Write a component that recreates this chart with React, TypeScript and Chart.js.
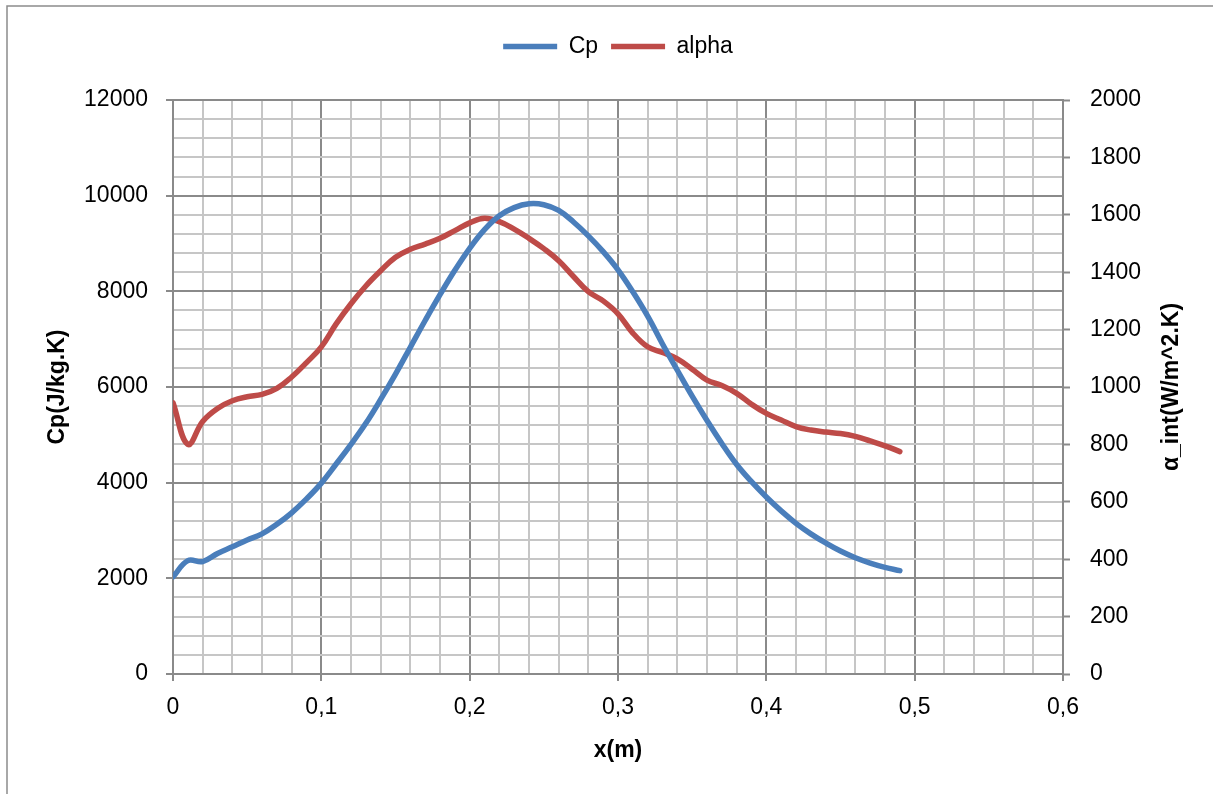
import React, { useEffect, useRef } from 'react';
import { Chart, registerables } from 'chart.js';

Chart.register(...registerables);

const FONT = '"Liberation Sans", Arial, sans-serif';

const seriesLabels = ['Cp', 'alpha'];
const xTitle = 'x(m)';
const yLeftTitle = 'Cp(J/kg.K)';
const yRightTitle = 'α_int(W/m^2.K)';

const xValues = [
  0.0, 0.01, 0.02, 0.03, 0.04, 0.05, 0.06, 0.07, 0.08, 0.09,
  0.1, 0.11, 0.12, 0.13, 0.14, 0.15, 0.16, 0.17, 0.18, 0.19,
  0.2, 0.21, 0.22, 0.23, 0.24, 0.25, 0.26, 0.27, 0.28, 0.29,
  0.3, 0.31, 0.32, 0.33, 0.34, 0.35, 0.36, 0.37, 0.38, 0.39,
  0.4, 0.41, 0.42, 0.43, 0.44, 0.45, 0.46, 0.47, 0.48, 0.49,
];

const cpValues = [
  2030, 2370, 2350, 2520, 2660, 2800, 2930, 3130, 3370, 3660,
  3990, 4390, 4800, 5240, 5740, 6270, 6830, 7390, 7930, 8440,
  8900, 9290, 9580, 9750, 9830, 9810, 9690, 9450, 9160, 8830,
  8450, 7990, 7480, 6900, 6350, 5810, 5300, 4820, 4380, 4020,
  3700, 3410, 3150, 2930, 2740, 2570, 2430, 2320, 2230, 2160,
];

const alphaValues = [
  945, 800, 880, 925, 952, 966, 974, 995, 1035, 1085,
  1140, 1220, 1290, 1352, 1405, 1452, 1480, 1498, 1518, 1545,
  1572, 1588, 1576, 1550, 1518, 1482, 1440, 1385, 1332, 1300,
  1255, 1188, 1140, 1120, 1098, 1062, 1024, 1005, 978, 940,
  908, 885, 862, 850, 843, 838, 828, 812, 795, 775,
];

const xTickStep = 0.02;
const xLabelStep = 0.1;
const leftTickStep = 400;
const leftLabelStep = 2000;
const rightTickStep = 200;

const MAJOR = '#8a8a8a';
const MINOR = '#c6c6c6';

const decorPlugin = {
  id: 'decor',
  beforeDraw(chart: any) {
    const ctx = chart.ctx;
    ctx.save();
    ctx.strokeStyle = '#8c8c8c';
    ctx.lineWidth = 1.5;
    ctx.beginPath();
    ctx.moveTo(7, chart.height);
    ctx.lineTo(7, 6);
    ctx.lineTo(chart.width, 6);
    ctx.stroke();
    ctx.restore();
  },
  afterDraw(chart: any) {
    const ctx = chart.ctx;
    const a = chart.chartArea;
    ctx.save();
    ctx.translate(1172, (a.top + a.bottom) / 2);
    ctx.rotate(-Math.PI / 2);
    ctx.font = `bold 23px ${FONT}`;
    ctx.fillStyle = '#000';
    ctx.textAlign = 'center';
    ctx.textBaseline = 'middle';
    ctx.fillText(yRightTitle, 0, 0);
    ctx.restore();
  },
};

const isMultiple = (v: number, step: number) => Math.abs(v / step - Math.round(v / step)) < 1e-6;

export default function App() {
  const ref = useRef<HTMLCanvasElement | null>(null);

  useEffect(() => {
    if (!ref.current) return;
    const chart = new Chart(ref.current, {
      type: 'line',
      data: {
        datasets: [
          {
            label: seriesLabels[0],
            data: xValues.map((x, i) => ({ x, y: cpValues[i] })),
            borderColor: '#4a7ebb',
            backgroundColor: '#4a7ebb',
            borderWidth: 5.5,
            pointRadius: 0,
            tension: 0.4,
            borderCapStyle: 'round',
            borderJoinStyle: 'round',
            yAxisID: 'y',
          },
          {
            label: seriesLabels[1],
            data: xValues.map((x, i) => ({ x, y: alphaValues[i] })),
            borderColor: '#be4b48',
            backgroundColor: '#be4b48',
            borderWidth: 5.5,
            pointRadius: 0,
            tension: 0.4,
            borderCapStyle: 'round',
            borderJoinStyle: 'round',
            yAxisID: 'y1',
          },
        ],
      },
      options: {
        animation: false,
        responsive: true,
        maintainAspectRatio: false,
        layout: { padding: { top: 22, left: 0, right: 0, bottom: 0 } },
        plugins: {
          legend: {
            display: true,
            position: 'top',
            fullSize: false,
            weight: 3000,
            labels: {
              usePointStyle: true,
              pointStyle: 'line',
              pointStyleWidth: 54,
              padding: 13,
              color: '#000',
              font: { family: FONT, size: 23 },
            },
          },
          title: {
            display: true,
            text: '',
            padding: { top: 10, bottom: 10 },
            font: { size: 10 },
          },
          tooltip: { enabled: false },
        },
        scales: {
          x: {
            type: 'linear',
            min: 0,
            max: 0.6,
            afterFit: (s: any) => { s.height = 120; },
            border: { display: true, color: MAJOR, width: 2 },
            grid: {
              color: (c: any) => (isMultiple(c.tick.value, xLabelStep) ? MAJOR : MINOR),
              tickColor: (c: any) => (isMultiple(c.tick.value, xLabelStep) ? MAJOR : 'rgba(0,0,0,0)'),
              tickLength: 7,
              lineWidth: 2,
              tickWidth: 2,
            },
            ticks: {
              stepSize: xTickStep,
              autoSkip: false,
              maxRotation: 0,
              padding: 13,
              color: '#000',
              font: { family: FONT, size: 23 },
              callback: (v: any) => (isMultiple(v, xLabelStep) ? String(Math.round(v * 10) / 10).replace('.', ',') : ''),
            },
            title: {
              display: true,
              text: xTitle,
              color: '#000',
              font: { family: FONT, size: 23, weight: 'bold' },
              padding: { top: 0, bottom: 30 },
            },
          },
          y: {
            type: 'linear',
            position: 'left',
            min: 0,
            max: 12000,
            afterFit: (s: any) => { s.width = 173; },
            border: { display: true, color: MAJOR, width: 2 },
            grid: {
              color: (c: any) => (isMultiple(c.tick.value, leftLabelStep) ? MAJOR : MINOR),
              tickColor: (c: any) => (isMultiple(c.tick.value, leftLabelStep) ? MAJOR : 'rgba(0,0,0,0)'),
              tickLength: 7,
              lineWidth: 2,
              tickWidth: 2,
            },
            ticks: {
              stepSize: leftTickStep,
              autoSkip: false,
              padding: 18,
              color: '#000',
              font: { family: FONT, size: 23 },
              callback: (v: any) => (isMultiple(v, leftLabelStep) ? String(v) : ''),
            },
            title: {
              display: true,
              text: yLeftTitle,
              color: '#000',
              font: { family: FONT, size: 23, weight: 'bold' },
              padding: { top: 44, bottom: 0 },
            },
          },
          y1: {
            type: 'linear',
            position: 'right',
            min: 0,
            max: 2000,
            afterFit: (s: any) => { s.width = 150; },
            border: { display: true, color: MAJOR, width: 2 },
            grid: {
              drawOnChartArea: false,
              tickColor: MAJOR,
              tickLength: 7,
              tickWidth: 2,
            },
            ticks: {
              stepSize: rightTickStep,
              autoSkip: false,
              padding: 20,
              color: '#000',
              font: { family: FONT, size: 23 },
              callback: (v: any) => String(v),
            },
          },
        },
      },
      plugins: [decorPlugin],
    } as any);
    return () => chart.destroy();
  }, []);

  return (
    <div style={{ position: 'fixed', left: 0, top: 0, width: 1213, height: 794, background: '#fff' }}>
      <canvas ref={ref} />
    </div>
  );
}
